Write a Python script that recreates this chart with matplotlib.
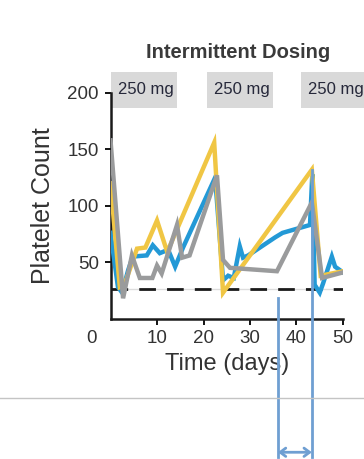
import matplotlib
matplotlib.use('Agg')
import matplotlib.pyplot as plt
from matplotlib.patches import Rectangle, FancyArrowPatch

plt.rcParams.update({
    'font.family': ['Liberation Sans', 'DejaVu Sans'],
    'axes.spines.top': False,
    'axes.spines.right': False,
})

BLUE = '#2399d6'
YELLOW = '#f0c644'
GRAY = '#9a9b9c'
ANNOT = '#6f9fd2'
TXT = '#333333'

# platelet count per arm
blue_days = [0, 1.6, 2.5, 3.8, 4.8, 7.8, 9.1, 10.6, 12.4, 13.9, 15.6, 22.5,
             24.2, 25.3, 26.5, 27.8, 28.5, 29.6, 35.4, 37, 42.9, 43.4, 43.9,
             45.0, 45.7, 47.6, 48.3, 50]
blue_vals = [76, 28, 23, 43, 55, 56, 65, 58, 61, 46, 63, 125,
             34, 38, 36, 64, 54, 56, 72, 76, 83, 128, 30,
             23, 31, 55, 46, 41]

yellow_days = [0, 2.0, 3.0, 5.7, 7.5, 10.0, 12.2, 22.3, 24.2, 43.3, 45.2, 50]
yellow_vals = [120, 28, 30, 62, 63, 87, 59, 156, 23, 132, 38, 42]

gray_days = [0, 2.7, 4.6, 6.3, 9.0, 10.0, 11.0, 14.3, 15.4, 17.0, 22.9,
             24.2, 25.7, 35.8, 43.3, 45.5, 50]
gray_vals = [158, 18, 56, 36, 36, 47, 40, 83, 54, 56, 127,
             52, 45, 42, 103, 36, 41]

threshold = 26

# dosing windows (days)
dose_starts = [0.1, 20.7, 40.9]
dose_len = 14.2
dose_label = '250 mg'

# bracket marking the interval on the third cycle
bracket_days = [36.0, 43.3]
bracket_tops = [18, 132]

fig = plt.figure(figsize=(3.64, 4.59), dpi=100)
ax = fig.add_axes([0.3036, 0.3059, 0.6387, 0.4915])

ax.plot([0, 50], [threshold, threshold], color='#dddddd', lw=1, zorder=1)
ax.plot([0, 50], [threshold, threshold], color='#1a1a1a', lw=2,
        dashes=(6, 4), zorder=2)

ax.plot(blue_days, blue_vals, color=BLUE, lw=3.2, solid_joinstyle='miter', zorder=3)
ax.plot(yellow_days, yellow_vals, color=YELLOW, lw=3.2, solid_joinstyle='miter', zorder=4)
ax.plot(gray_days, gray_vals, color=GRAY, lw=3.2, solid_joinstyle='miter', zorder=5)

for s in dose_starts:
    ax.add_patch(Rectangle((s, 186.7), dose_len, 31.9, facecolor='#d9d9d9',
                           edgecolor='none', clip_on=False, zorder=0))
    ax.text(s + 1.6, 203.5, dose_label, ha='left', va='center', fontsize=12,
            color='#26283a', clip_on=False)

ax.set_xlim(0, 50)
ax.set_ylim(0, 200)
ax.set_xticks([10, 20, 30, 40, 50])
ax.set_yticks([50, 100, 150, 200])
for side in ('left', 'bottom'):
    ax.spines[side].set_linewidth(1.8)
    ax.spines[side].set_color('#1a1a1a')
ax.tick_params(direction='out', length=4.5, width=1.3, labelsize=13.5,
               labelcolor=TXT, pad=4)
ax.annotate('0', xy=(-4.0, 0), xycoords=('data', 'data'), xytext=(0, -8.5),
            textcoords='offset points', ha='center', va='top',
            fontsize=13.5, color=TXT, annotation_clip=False)

ax.set_xlabel('Time (days)', fontsize=17, color=TXT, labelpad=4)
ax.set_ylabel('Platelet Count', fontsize=18, color=TXT, labelpad=9)

fig.text(238 / 364, 1 - 52 / 459, 'Intermittent Dosing', ha='center',
         va='center', fontsize=14.5, fontweight='bold', color='#3a3a3a')

# separator line across the figure
fig.add_artist(plt.Line2D([0, 1], [1 - 398 / 459] * 2, color='#c4c4c4', lw=1))

# interval bracket
ybot = -123
for d, top in zip(bracket_days, bracket_tops):
    ax.plot([d, d], [top, ybot], color=ANNOT, lw=2, clip_on=False, zorder=6)
arr = FancyArrowPatch((bracket_days[0], -118.5), (bracket_days[1], -118.5),
                      arrowstyle='<->,head_length=4,head_width=3', color=ANNOT,
                      lw=2, mutation_scale=1, shrinkA=0, shrinkB=0, clip_on=False)
ax.add_patch(arr)

fig.savefig('out.png', dpi=100)
